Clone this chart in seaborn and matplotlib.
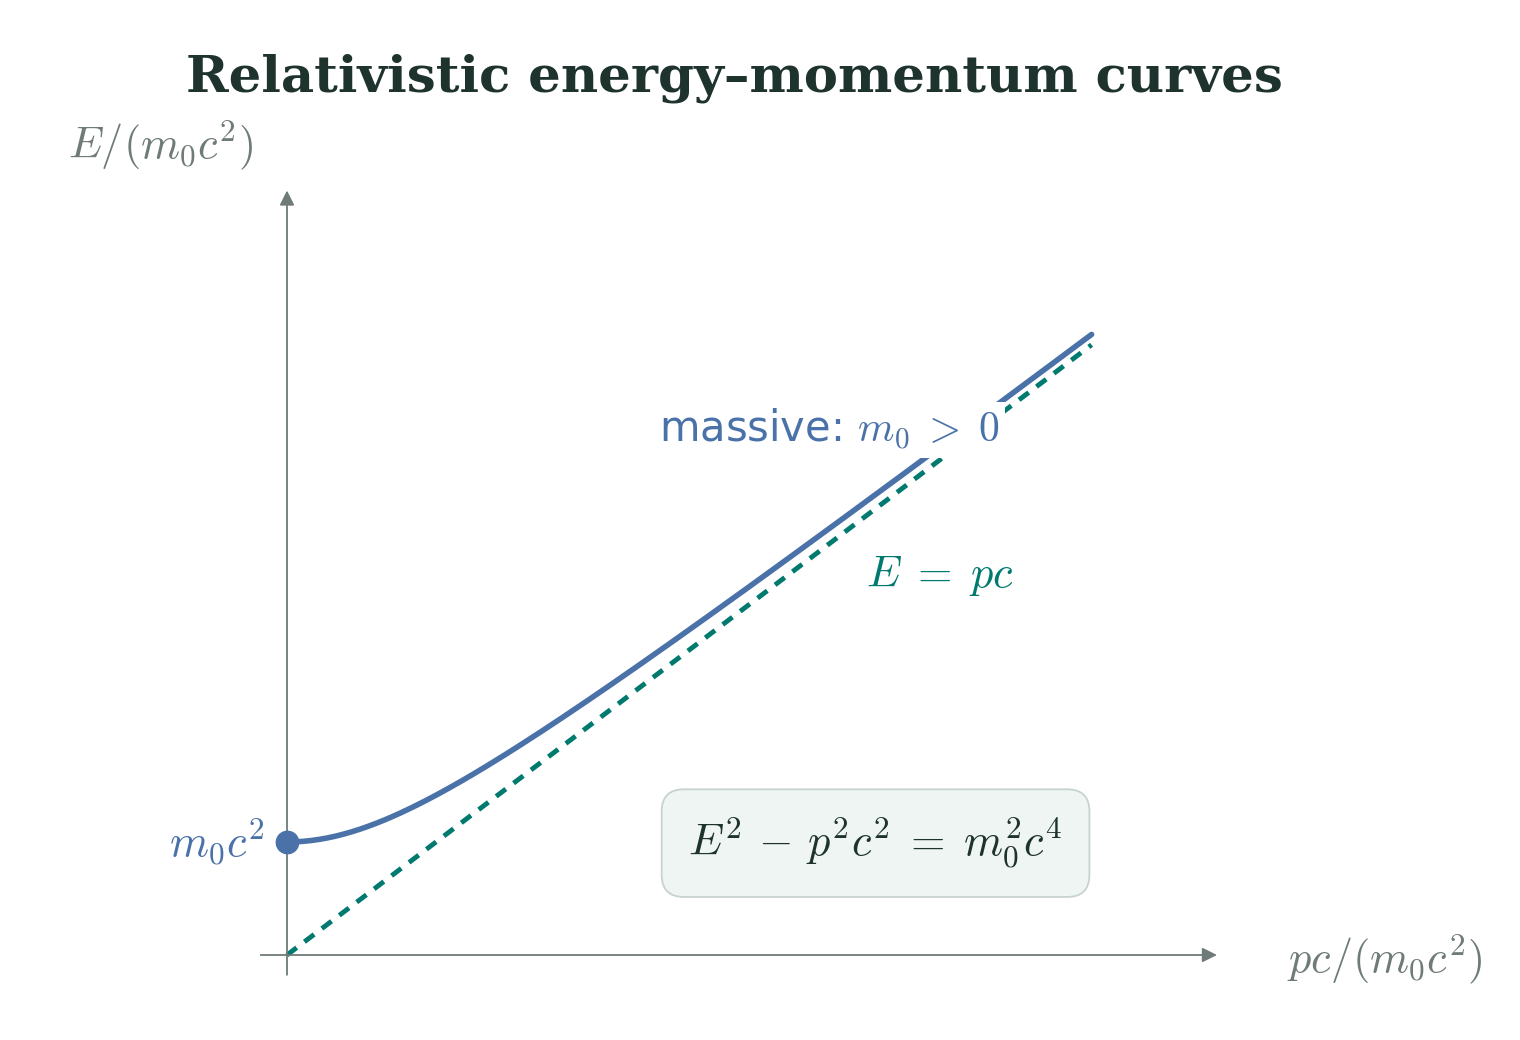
import matplotlib.pyplot as plt
import numpy as np
import pandas as pd
import seaborn as sns

# data in units of m0 c^2
p_max = 5.4
momentum = np.linspace(0, p_max, 200)
energy = np.sqrt(momentum**2 + 1.0)
rest_energy = 1.0

blue = '#4a72a8'
teal = '#007a6e'
grey = '#6e7b78'
dark = '#1f332e'

sns.set_theme(style='white')
plt.rcParams['mathtext.fontset'] = 'cm'
plt.rcParams['font.family'] = ['DejaVu Sans']

fig = plt.figure(figsize=(15.2, 10.4), dpi=100)
ax = fig.add_axes([0, 0, 1, 1])
ax.set_xlim(-287 / 149, (1520 - 287) / 149)
ax.set_ylim(-85 / 113, 955 / 113)
ax.axis('off')

# axes arrows
ax.annotate('', xy=(6.26, 0), xytext=(-0.195, 0),
            arrowprops=dict(arrowstyle='-|>', color=grey, lw=1.3, mutation_scale=22))
ax.annotate('', xy=(0, 6.79), xytext=(0, -0.2),
            arrowprops=dict(arrowstyle='-|>', color=grey, lw=1.3, mutation_scale=22))

df = pd.DataFrame({'p': momentum, 'E': energy})
sns.lineplot(data=df, x='p', y='E', ax=ax, color=blue, lw=4, zorder=3)
ax.plot([0, p_max], [0, p_max], color=teal, lw=3.5, ls=(0, (2.5, 2)), zorder=2)
ax.scatter([0], [rest_energy], s=260, color=blue, zorder=5)

ax.text(-0.15, rest_energy, r'$m_0c^2$', color=blue, fontsize=32, ha='right', va='center')
ax.text(3.64, 4.65, r'massive: $m_0 \;>\; 0$', color=blue, fontsize=30, ha='center', va='center',
        zorder=6, bbox=dict(facecolor='white', edgecolor='none', pad=4))
ax.text(4.38, 3.35, r'$E \;=\; pc$', color=teal, fontsize=32, ha='center', va='center')
ax.text(3.95, 0.99, r'$E^2 \,-\, p^2c^2 \;=\; m_0^2c^4$', color=dark, fontsize=32, ha='center', va='center',
        bbox=dict(boxstyle='round,pad=0.6,rounding_size=0.5', facecolor='#eef5f3', edgecolor='#c8d3d0', lw=1.3))
ax.text(-0.85, 7.17, r'$E/(m_0c^2)$', color=grey, fontsize=32, ha='center', va='center')
ax.text(7.37, -0.04, r'$pc/(m_0c^2)$', color=grey, fontsize=32, ha='center', va='center')

fig.text(0.483, 0.925, 'Relativistic energy\u2013momentum curves', color=dark, fontsize=37,
         fontweight='bold', family=['DejaVu Serif'], ha='center', va='center')

fig.savefig('out.png', dpi=100)
